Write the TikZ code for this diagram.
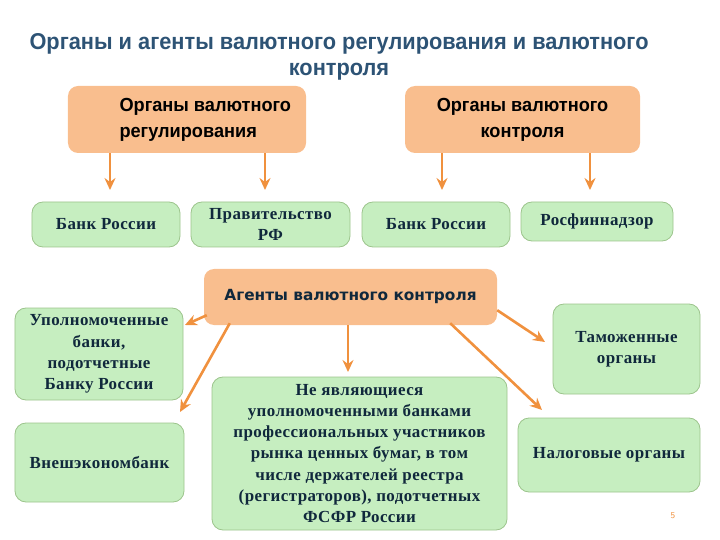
\documentclass[tikz,border=0pt]{standalone}
\usepackage{fontspec}
\setmainfont{Liberation Serif}
\newfontfamily\narrowsans[FakeStretch=0.95]{Liberation Sans}
\newfontfamily\boxsans[FakeStretch=0.96]{Liberation Sans}
\newfontfamily\spacedserif[LetterSpace=2.5]{Liberation Serif}
\newfontfamily\heavysans{DejaVu Sans}
\usetikzlibrary{arrows.meta,calc}

\definecolor{boxorange}{HTML}{F9BE8E}
\definecolor{boxgreen}{HTML}{C6EEC0}
\definecolor{edgegreen}{HTML}{9CC48C}
\definecolor{arroworange}{HTML}{F0913E}
\definecolor{titleblue}{HTML}{2D5375}
\definecolor{textnavy}{HTML}{10283C}

\tikzset{
  orgbox/.style={fill=boxorange, draw=none, rounded corners=10bp},
  agbox/.style={fill=boxgreen, draw=edgegreen, line width=0.8bp, rounded corners=11bp,
    text=textnavy, font=\spacedserif\bfseries\fontsize{17}{21.3}\selectfont, align=center},
  orgtext/.style={font=\boxsans\bfseries\fontsize{19}{26}\selectfont, align=left},
  arr/.style={draw=arroworange, line width=2.6bp,
    -{Stealth[length=12bp,width=11bp,inset=4bp]}}
}

\begin{document}
\begin{tikzpicture}[x=1bp,y=-1bp]
  \useasboundingbox (0,0) rectangle (720,540);

  % title
  \node[text=titleblue, font=\narrowsans\bfseries\fontsize{23}{26}\selectfont, align=center]
    (title) at (339,57) {Органы и агенты валютного регулирования и валютного\\контроля};

  % bodies of currency regulation and control
  \node[orgbox, minimum width=238bp, minimum height=67bp] (reg) at (187,119.5) {};
  \node[orgtext, anchor=west] (regtext) at (116,119.5) {Органы валютного\\регулирования};
  \node[orgbox, orgtext, align=center, minimum width=235bp, minimum height=67bp]
    (ctrl) at (522.5,119.5) {Органы валютного\\контроля};

  \node[agbox, minimum width=148bp, minimum height=45bp] (bank1) at (106,224.5) {Банк России};
  \node[agbox, minimum width=159bp, minimum height=45bp] (gov) at (270.5,224.5) {Правительство\\РФ};
  \node[agbox, minimum width=148bp, minimum height=45bp] (bank2) at (436,224.5) {Банк России};
  \node[agbox, minimum width=152bp, minimum height=39bp] (rfn) at (597,221.5) {Росфиннадзор};

  \coordinate (t1) at (110,190);
  \coordinate (t2) at (265,190);
  \coordinate (t3) at (442,190);
  \coordinate (t4) at (590,190);
  \draw[arr] (reg.south -| t1) -- (t1);
  \draw[arr] (reg.south -| t2) -- (t2);
  \draw[arr] (ctrl.south -| t3) -- (t3);
  \draw[arr] (ctrl.south -| t4) -- (t4);

  % agents of currency control
  \node[orgbox, minimum width=293bp, minimum height=56bp,
    font=\heavysans\bfseries\fontsize{15.4}{18}\selectfont, text=textnavy]
    (agents) at (350.5,297) {Агенты валютного контроля};

  \node[agbox, minimum width=168bp, minimum height=92bp] (auth) at (99,354)
    {Уполномоченные\\банки,\\подотчетные\\Банку России};
  \node[agbox, minimum width=169bp, minimum height=79bp] (veb) at (99.5,462.5) {Внешэкономбанк};
  \node[agbox, minimum width=295bp, minimum height=153bp] (nonbank) at (359.5,453.5)
    {Не являющиеся\\уполномоченными банками\\профессиональных участников\\рынка ценных бумаг, в том\\числе держателей реестра\\(регистраторов), подотчетных\\ФСФР России};
  \node[agbox, minimum width=147bp, minimum height=90bp] (customs) at (626.5,349) {Таможенные\\органы};
  \node[agbox, minimum width=182bp, minimum height=74bp] (tax) at (609,455) {Налоговые органы};

  \coordinate (u1) at (185,325);
  \coordinate (u2) at (180,412);
  \coordinate (u3) at (348,372);
  \coordinate (u4) at (545,342);
  \coordinate (u5) at (542,410);
  \draw[arr] ($(agents.south west)+(3,-10)$) -- (u1);
  \draw[arr] ($(agents.south west)+(26,-2)$) -- (u2);
  \draw[arr] (agents.south -| u3) -- (u3);
  \draw[arr] ($(agents.south east)+(0,-15)$) -- (u4);
  \draw[arr] ($(agents.south east)+(-47,-2)$) -- (u5);

  \node[text=arroworange, font=\sffamily\fontsize{9}{10}\selectfont] (pagenum) at (673,516) {5};
\end{tikzpicture}
\end{document}
